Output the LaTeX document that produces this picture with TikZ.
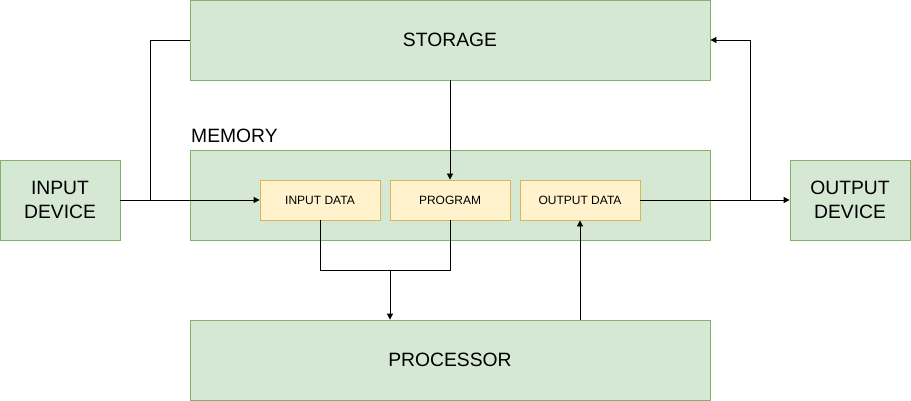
\documentclass[tikz,border=0pt]{standalone}
\usepackage{fontspec}
\setmainfont{Liberation Sans}
\usetikzlibrary{arrows.meta}
\definecolor{gfill}{HTML}{D5E8D4}
\definecolor{gline}{HTML}{82B366}
\definecolor{yfill}{HTML}{FFF2CC}
\definecolor{yline}{HTML}{D6B656}
\begin{document}
\begin{tikzpicture}[x=1pt,y=-1pt,
  gbox/.style={draw=gline,fill=gfill,line width=0.8pt,inner sep=0pt,align=center,
    font=\fontsize{19.3}{24.5}\selectfont},
  ybox/.style={draw=yline,fill=yfill,line width=0.8pt,inner sep=0pt,align=center,
    minimum width=120pt,minimum height=40pt,font=\fontsize{12}{14}\selectfont},
  conn/.style={line width=0.8pt,black},
  arr/.style={conn,-{Triangle[length=6pt,width=6pt]}}]
\useasboundingbox (0,0) rectangle (911,401);
\node[gbox,minimum width=520pt,minimum height=80pt] (storage) at (450,40) {STORAGE};
\node[gbox,minimum width=520pt,minimum height=90pt] (memory) at (450,195) {};
\node[anchor=south west,inner xsep=1pt,inner ysep=7pt,font=\fontsize{19.3}{22}\selectfont] (memlabel) at (190,150) {MEMORY};
\node[gbox,minimum width=120pt,minimum height=80pt] (indev) at (60,200) {INPUT\\DEVICE};
\node[gbox,minimum width=120pt,minimum height=80pt] (outdev) at (850,200) {OUTPUT\\DEVICE};
\node[gbox,minimum width=520pt,minimum height=80pt] (proc) at (450,360) {PROCESSOR};
\node[ybox] (indata) at (320,200) {INPUT DATA};
\node[ybox] (program) at (450,200) {PROGRAM};
\node[ybox] (outdata) at (580,200) {OUTPUT DATA};
\coordinate (j1) at (150,200);
\coordinate (j2) at (750,200);
\coordinate (j3) at (390,270);
\draw[arr] (indev.east) -- (indata.west);
\draw[conn] (j1) -- (150,40) -- (storage.west);
\draw[arr] (storage.south) -- (program.north);
\draw[arr] (outdata.east) -- (outdev.west);
\draw[arr] (j2) -- (750,40) -- (storage.east);
\draw[conn] (indata.south) -- (320,270) -- (450,270) -- (program.south);
\draw[arr] (j3) -- (proc.north -| j3);
\draw[arr] (proc.north -| outdata.south) -- (outdata.south);
\end{tikzpicture}
\end{document}
